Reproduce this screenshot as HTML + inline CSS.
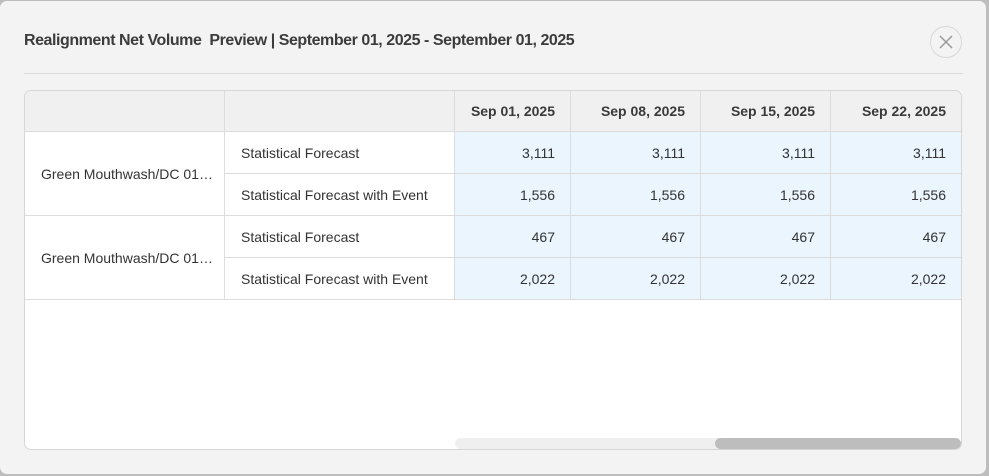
<!DOCTYPE html>
<html><head><style>
*{box-sizing:border-box;margin:0;padding:0}
body{width:989px;height:476px;background:#bdbdbd;font-family:"Liberation Sans",sans-serif;position:relative;overflow:hidden}
.dlg{position:absolute;left:0;top:1px;width:986px;height:473px;background:#f3f3f3;border-radius:7px}
.title{position:absolute;left:24px;top:31px;font-size:16px;font-weight:bold;color:#3c3c3c;letter-spacing:-0.45px}
.hr{position:absolute;left:24px;top:72px;width:939px;height:1px;background:#dcdcdc}
.close{position:absolute;left:930px;top:25px;width:32px;height:32px;border:1px solid #d8d8d8;border-radius:50%}
.tbl{position:absolute;left:24px;top:90px;width:938px;height:360px;background:#fff;border:1px solid #d6d6d6;border-radius:7px;overflow:hidden}
.c{position:absolute;font-size:14px;color:#333;display:flex;align-items:center;border-right:1px solid #dcdcdc;border-bottom:1px solid #dcdcdc}
.h{background:#f0f0f0;font-weight:bold;justify-content:flex-end;padding-right:15px;color:#3a3a3a}
.v{background:#eaf5fd;justify-content:flex-end;padding-right:15px}
.l{padding-left:16px}
.track{position:absolute;left:430px;top:347px;width:506px;height:11px;background:#efefef;border-radius:6px}
.thumb{position:absolute;left:690px;top:347px;width:246px;height:11px;background:#bdbdbd;border-radius:6px}
</style></head><body>
<div class="dlg">
<div class="title">Realignment Net Volume&nbsp; Preview | September 01, 2025 - September 01, 2025</div>
<div class="close"><svg width="30" height="30" viewBox="0 0 30 30"><path d="M9 9L21 21M21 9L9 21" stroke="#999" stroke-width="1.5" fill="none"/></svg></div>
<div class="hr"></div>
</div>
<div class="tbl">
<div class="c h" style="left:0;top:0;width:200px;height:41px"></div>
<div class="c h" style="left:200px;top:0;width:230px;height:41px"></div>
<div class="c h" style="left:430px;top:0;width:116px;height:41px">Sep 01, 2025</div>
<div class="c h" style="left:546px;top:0;width:130px;height:41px">Sep 08, 2025</div>
<div class="c h" style="left:676px;top:0;width:130px;height:41px">Sep 15, 2025</div>
<div class="c h" style="left:806px;top:0;width:131px;height:41px">Sep 22, 2025</div>

<div class="c l" style="left:0;top:41px;width:200px;height:84px">Green Mouthwash/DC 01…</div>
<div class="c l" style="left:0;top:125px;width:200px;height:84px">Green Mouthwash/DC 01…</div>

<div class="c l" style="left:200px;top:41px;width:230px;height:42px">Statistical Forecast</div>
<div class="c l" style="left:200px;top:83px;width:230px;height:42px">Statistical Forecast with Event</div>
<div class="c l" style="left:200px;top:125px;width:230px;height:42px">Statistical Forecast</div>
<div class="c l" style="left:200px;top:167px;width:230px;height:42px">Statistical Forecast with Event</div>

<div class="c v" style="left:430px;top:41px;width:116px;height:42px">3,111</div>
<div class="c v" style="left:546px;top:41px;width:130px;height:42px">3,111</div>
<div class="c v" style="left:676px;top:41px;width:130px;height:42px">3,111</div>
<div class="c v" style="left:806px;top:41px;width:131px;height:42px">3,111</div>
<div class="c v" style="left:430px;top:83px;width:116px;height:42px">1,556</div>
<div class="c v" style="left:546px;top:83px;width:130px;height:42px">1,556</div>
<div class="c v" style="left:676px;top:83px;width:130px;height:42px">1,556</div>
<div class="c v" style="left:806px;top:83px;width:131px;height:42px">1,556</div>
<div class="c v" style="left:430px;top:125px;width:116px;height:42px">467</div>
<div class="c v" style="left:546px;top:125px;width:130px;height:42px">467</div>
<div class="c v" style="left:676px;top:125px;width:130px;height:42px">467</div>
<div class="c v" style="left:806px;top:125px;width:131px;height:42px">467</div>
<div class="c v" style="left:430px;top:167px;width:116px;height:42px">2,022</div>
<div class="c v" style="left:546px;top:167px;width:130px;height:42px">2,022</div>
<div class="c v" style="left:676px;top:167px;width:130px;height:42px">2,022</div>
<div class="c v" style="left:806px;top:167px;width:131px;height:42px">2,022</div>
<div class="track"></div><div class="thumb"></div>
</div>
</body></html>
